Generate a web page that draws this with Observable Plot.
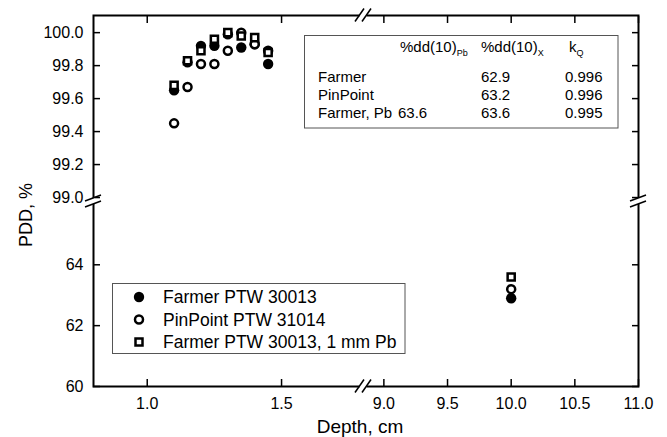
<!DOCTYPE html>
<html><head><meta charset="utf-8">
<script src="https://cdn.jsdelivr.net/npm/d3@7"></script>
<script src="https://cdn.jsdelivr.net/npm/@observablehq/plot@0.6"></script>
<style>
html,body{margin:0;padding:0;background:#fff;}
#chart svg{display:block;}
</style>
</head><body><div id="chart"></div>
<script>
// ---- data ----
const depthsNear = [1.10, 1.15, 1.20, 1.25, 1.30, 1.35, 1.40, 1.45];
const farmerNear = [99.65, 99.82, 99.92, 99.92, 99.99, 99.91, 99.93, 99.81];
const pinpointNear = [99.45, 99.67, 99.81, 99.81, 99.89, 100.0, 99.93, 99.89];
const farmerPbNear = [99.68, 99.83, 99.89, 99.96, 100.0, 99.98, 99.97, 99.88];
const depthFar = [10.0];
const farmerFar = [62.9];
const pinpointFar = [63.2];
const farmerPbFar = [63.6];
const seriesNames = ["Farmer PTW 30013", "PinPoint PTW 31014", "Farmer PTW 30013, 1 mm Pb"];
const xTicks = [1.0, 1.5, 9.0, 9.5, 10.0, 10.5, 11.0];
const yTicks = [60, 62, 64, 99.0, 99.2, 99.4, 99.6, 99.8, 100.0];
const xDomain = [0.8, 1.805, 8.84, 11.0];     // broken axis: [start, break, resume, end]
const yDomain = [60, 66.08, 98.976, 100.104];
const tableCols = ["", "%dd(10)", "%dd(10)", "k"];
const tableSubs = ["", "Pb", "X", "Q"];
const tableNames = ["Farmer", "PinPoint", "Farmer, Pb"];
const tablePb = ["", "", "63.6"];
const tableX = ["62.9", "63.2", "63.6"];
const tableKQ = ["0.996", "0.996", "0.995"];

// ---- build rows ----
function rows(name, near, far) {
  return depthsNear.map((d, i) => ({series: name, depth: d, pdd: near[i]}))
    .concat(depthFar.map((d, i) => ({series: name, depth: d, pdd: far[i]})));
}
const dFarmer = rows(seriesNames[0], farmerNear, farmerFar);
const dPin = rows(seriesNames[1], pinpointNear, pinpointFar);
const dPb = rows(seriesNames[2], farmerPbNear, farmerPbFar);

const W = 667, H = 437, mL = 93, mR = 29, mT = 15, mB = 51;
const FONT = "'Liberation Sans', Arial, Helvetica, sans-serif";

const chart = Plot.plot({
  width: W, height: H,
  marginLeft: mL, marginRight: mR, marginTop: mT, marginBottom: mB,
  style: {fontFamily: FONT, fontSize: "16px", color: "black", background: "white"},
  x: {type: "linear", domain: xDomain, range: [mL, 363, 363, W - mR], label: null},
  y: {type: "linear", domain: yDomain, range: [H - mB, 201, 201, mT], label: null},
  marks: [
    Plot.axisX({anchor: "bottom", ticks: xTicks, tickSize: -7, tickPadding: 18, strokeWidth: 1.5,
      tickFormat: d => d.toFixed(1), fontSize: 16, label: null}),
    Plot.axisX({anchor: "top", ticks: xTicks, tickSize: -7, strokeWidth: 1.5, fill: "none", label: null}),
    Plot.axisY({anchor: "left", ticks: yTicks, tickSize: -7, tickPadding: 17, strokeWidth: 1.5,
      tickFormat: d => d > 90 ? d.toFixed(1) : d.toFixed(0), fontSize: 16, label: null}),
    Plot.axisY({anchor: "right", ticks: yTicks, tickSize: -7, strokeWidth: 1.5, fill: "none", label: null}),
    Plot.frame({stroke: "black", strokeWidth: 2}),
    Plot.dot(dFarmer, {x: "depth", y: "pdd", symbol: "circle", r: 5.2, fill: "black", stroke: "none"}),
    Plot.dot(dPin, {x: "depth", y: "pdd", symbol: "circle", r: 4, fill: "white", stroke: "black", strokeWidth: 2.5}),
    Plot.dot(dPb, {x: "depth", y: "pdd", symbol: "square", r: 4, fill: "white", stroke: "black", strokeWidth: 2.5})
  ]
});
document.getElementById("chart").appendChild(chart);

// ---- decorations: axis breaks, titles, legend, inset table ----
const svg = d3.select(chart);
const sx = chart.scale("x"), sy = chart.scale("y");
const xb = sx.apply(xDomain[1]), yb = sy.apply(yDomain[1]);
const L = mL, R = W - mR, T = mT, B = H - mB;
const deco = svg.append("g").attr("font-family", FONT).attr("fill", "black").attr("text-anchor", "start");

for (const yy of [T, B]) {
  deco.append("rect").attr("x", xb - 3.5).attr("y", yy - 2).attr("width", 7).attr("height", 4).attr("fill", "white");
  for (const off of [-3.5, 3.5]) {
    deco.append("line").attr("x1", xb + off - 4.5).attr("y1", yy + 6.5).attr("x2", xb + off + 4.5).attr("y2", yy - 6.5)
      .attr("stroke", "black").attr("stroke-width", 1.5);
  }
}
for (const xx of [L, R]) {
  deco.append("rect").attr("x", xx - 2).attr("y", yb - 3).attr("width", 4).attr("height", 6).attr("fill", "white");
  for (const off of [-3, 3]) {
    deco.append("line").attr("x1", xx - 8).attr("y1", yb + off + 3).attr("x2", xx + 8).attr("y2", yb + off - 3)
      .attr("stroke", "black").attr("stroke-width", 1.5);
  }
}

deco.append("text").attr("transform", "translate(32,215) rotate(-90)").attr("text-anchor", "middle")
  .attr("font-size", 18).text("PDD, %");
deco.append("text").attr("x", 360).attr("y", 433).attr("text-anchor", "middle")
  .attr("font-size", 19).text("Depth, cm");

// legend
const leg = deco.append("g");
leg.append("rect").attr("x", 112.5).attr("y", 283.5).attr("width", 292.5).attr("height", 70)
  .attr("fill", "white").attr("stroke", "#555").attr("stroke-width", 1);
const legY = [297, 319.5, 342];
leg.append("circle").attr("cx", 139).attr("cy", legY[0]).attr("r", 5.2).attr("fill", "black");
leg.append("circle").attr("cx", 139).attr("cy", legY[1]).attr("r", 4).attr("fill", "white").attr("stroke", "black").attr("stroke-width", 2.5);
leg.append("rect").attr("x", 139 - 3.5).attr("y", legY[2] - 3.5).attr("width", 7).attr("height", 7).attr("fill", "white").attr("stroke", "black").attr("stroke-width", 2.5);
seriesNames.forEach((n, i) => {
  leg.append("text").attr("x", 163).attr("y", legY[i] + 6.3).attr("font-size", 17.5).text(n);
});

// inset table
const tab = deco.append("g").attr("font-size", 15);
tab.append("rect").attr("x", 304.5).attr("y", 35.5).attr("width", 313.5).attr("height", 92.5)
  .attr("fill", "white").attr("stroke", "#555").attr("stroke-width", 1);
const colX = [318, 400, 481, 569];
for (let c = 1; c < 4; c++) {
  const t = tab.append("text").attr("x", colX[c]).attr("y", 52);
  t.append("tspan").text(tableCols[c]);
  t.append("tspan").attr("font-size", 9).attr("dy", 4).text(tableSubs[c]);
}
const rowY = [81.5, 99.5, 117.5];
tableNames.forEach((n, i) => {
  tab.append("text").attr("x", 318).attr("y", rowY[i]).text(n);
  tab.append("text").attr("x", 398).attr("y", rowY[i]).text(tablePb[i]);
  tab.append("text").attr("x", 481).attr("y", rowY[i]).text(tableX[i]);
  tab.append("text").attr("x", 565).attr("y", rowY[i]).text(tableKQ[i]);
});
</script>
</body></html>
